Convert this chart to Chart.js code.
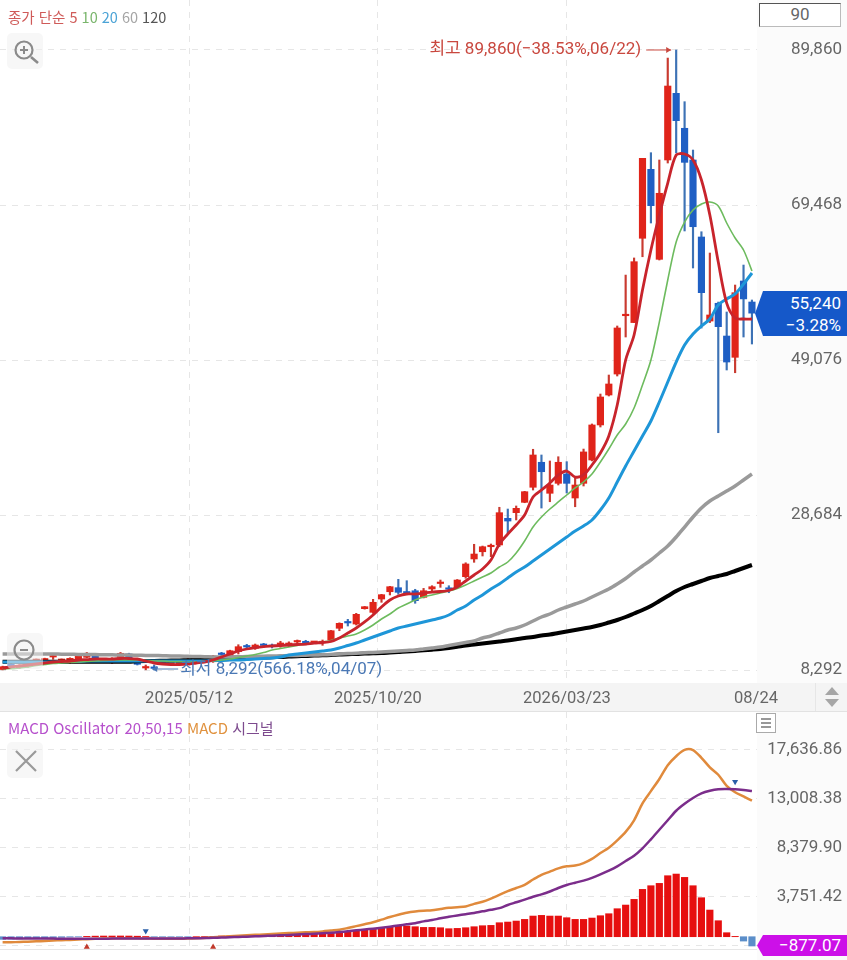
<!DOCTYPE html>
<html lang="ko">
<head>
<meta charset="utf-8">
<title>차트</title>
<script src="https://cdn.jsdelivr.net/npm/chart.js@4/dist/chart.umd.js"></script>
<style>
    html, body { margin: 0; padding: 0; background: #fff; }
    body { position: relative; width: 847px; height: 960px; overflow: hidden; font-family: Roboto, "Noto Sans CJK KR", sans-serif; color: #666; }
    canvas { position: absolute; left: 0; z-index: 2; }
    #priceChart { top: 0; }
    #macdChart { top: 712px; }
    .box { position: absolute; }
    .front { z-index: 3; }
    .legend { position: absolute; z-index: 3; white-space: nowrap; font-family: "Noto Sans CJK KR", Roboto, sans-serif; }
    .tag { position: absolute; z-index: 4; left: 755px; width: 92px; color: #fff; text-align: right; font-size: 17px; box-sizing: border-box; padding-right: 6px; }
    .icon { position: absolute; z-index: 3; width: 36px; height: 36px; left: 7px; border-radius: 5px; background: rgba(240,240,240,.55); }
</style>
</head>
<body>
<div class="box" style="left:757px;top:0;width:90px;height:683px;background:#fbfbfb"></div>
<div class="box" style="left:757px;top:712px;width:90px;height:248px;background:#fbfbfb"></div>
<div class="box" style="left:0;top:683px;width:847px;height:29px;background:#f4f4f4"></div>
<div class="box" style="left:0;top:711px;width:847px;height:1px;background:#e2e2e2"></div>
<div class="box" style="left:0;top:949px;width:757px;height:1px;background:#e6e6e6"></div>
<div class="box" style="left:815px;top:683px;width:1px;height:28px;background:#e6e6e6"></div>

<canvas id="priceChart" width="847" height="712"></canvas>
<canvas id="macdChart" width="847" height="248"></canvas>

<div class="legend" style="left:8px;top:6px;font-size:14.5px">
    <span style="color:#cf5a58">종가 단순 5</span>
    <span style="color:#79b56b">10</span>
    <span style="color:#4ba3d6">20</span>
    <span style="color:#a5a5a5">60</span>
    <span style="color:#555">120</span>
</div>
<div class="legend" style="left:8px;top:717px;font-size:15px">
    <span style="color:#b650cc">MACD Oscillator 20,50,15</span>
    <span style="color:#e0923f">MACD</span>
    <span style="color:#7d4a8e">시그널</span>
</div>

<div class="box front" style="left:759px;top:3px;width:82px;height:24px;box-sizing:border-box;border:1.5px solid #555;border-right-color:#bbb;border-bottom-color:#bbb;background:#fff;text-align:center;font-size:17px;line-height:21px;color:#666">90</div>

<div class="icon" style="top:33px">
    <svg width="36" height="36"><circle cx="17" cy="17" r="8.5" fill="none" stroke="#8b8b8b" stroke-width="2.2"/><path d="M13 17h8M17 13v8" stroke="#8b8b8b" stroke-width="2"/><path d="M24 24l7 6" stroke="#8b8b8b" stroke-width="2.6"/></svg>
</div>
<div class="icon" style="top:633px">
    <svg width="36" height="36"><circle cx="17" cy="17" r="9.5" fill="none" stroke="#8b8b8b" stroke-width="2.2"/><path d="M13 17h8" stroke="#8b8b8b" stroke-width="2"/></svg>
</div>
<div class="icon" style="top:742px">
    <svg width="36" height="36"><path d="M9 9l20 20M29 9L9 29" stroke="#9a9a9a" stroke-width="2.2"/></svg>
</div>

<div class="box front" style="left:756px;top:713px;width:20px;height:20px;box-sizing:border-box;border:1px solid #aaa;background:#fff">
    <svg width="18" height="18" style="display:block"><path d="M4 5h10M4 9h10M4 13h10" stroke="#777" stroke-width="1.6"/></svg>
</div>
<svg class="box front" style="left:822px;top:686px" width="20" height="24"><path d="M10 1l7 8H3zM3 13h14l-7 8z" fill="#a6a6a6"/></svg>

<div class="tag" style="top:291px;height:45px;line-height:22px;padding-top:1px;background:#1558c9;clip-path:polygon(0 50%,8px 0,100% 0,100% 100%,8px 100%)">55,240<br>−3.28%</div>
<div class="tag" style="top:935px;height:21px;line-height:21px;background:#cc10e8;clip-path:polygon(2px 50%,8px 0,100% 0,100% 100%,8px 100%)">−877.07</div>

<script>
// weekly candles
const opens = [8358, 9042, 8595, 8726, 9542, 9608, 10000, 9540, 9250, 9608, 9960, 10134, 9500, 9250, 9960, 10400, 9608, 8555, 8555, 9080, 9108, 9134, 9080, 9700, 9608, 9380, 10400, 10170, 10700, 11360, 11150, 11580, 11450, 11650, 11540, 11975, 12070, 11910, 11880, 12240, 13780, 14540, 14340, 16360, 15880, 17630, 18590, 19120, 18570, 18720, 17850, 18950, 19670, 19020, 19250, 20570, 22900, 23850, 24510, 24740, 28250, 28990, 30350, 32330, 35620, 31540, 32850, 34080, 30920, 32850, 35920, 40530, 44470, 47230, 54900, 54000, 65090, 74160, 62320, 75390, 84160, 79560, 75388, 65260, 54200, 56540, 52230, 49430, 59470, 56706];
const highs = [8800, 9150, 9000, 9050, 9750, 9850, 10450, 9750, 9900, 10200, 10600, 10300, 9750, 9900, 10600, 10500, 9700, 8950, 8950, 9350, 9300, 9300, 9800, 9800, 9700, 10200, 10620, 10900, 11620, 11670, 11710, 11800, 11710, 12070, 12000, 12240, 12200, 12000, 12240, 13500, 14500, 14960, 15750, 16650, 17590, 18250, 19300, 20220, 20040, 18910, 19030, 19380, 20130, 19380, 20200, 22400, 24830, 24600, 24870, 29700, 29470, 29870, 31800, 37330, 36580, 35790, 36350, 35700, 33550, 37360, 40660, 44600, 47100, 53550, 60250, 62500, 75610, 76350, 75390, 88800, 89860, 83060, 76700, 65950, 63150, 56700, 55390, 58940, 61570, 56969];
const lows = [8310, 8500, 8500, 8650, 9400, 9450, 9700, 9400, 9150, 9500, 9900, 9350, 9350, 9150, 9900, 9700, 8950, 8318, 8292, 9000, 9000, 9050, 9000, 9150, 9400, 9300, 10040, 10100, 10400, 11010, 11000, 11280, 11190, 11280, 11360, 11540, 11600, 11800, 11540, 12020, 13460, 14080, 14210, 16300, 15750, 17200, 18160, 18250, 18400, 17070, 17770, 18590, 19170, 18460, 19080, 20360, 22460, 23290, 23200, 24510, 26320, 28030, 30300, 31970, 29600, 30430, 32630, 31580, 29770, 32500, 35800, 40260, 44340, 46970, 52100, 54000, 62660, 67100, 62230, 74990, 76310, 66050, 61180, 53280, 54000, 39510, 47760, 47400, 52100, 51180];
const closes = [8726, 8595, 8910, 8950, 9608, 9700, 10068, 9608, 9830, 10134, 10490, 9476, 9608, 9830, 10490, 9780, 9042, 8595, 8500, 9250, 9186, 9213, 9700, 9250, 9476, 10130, 10330, 10830, 11360, 11320, 11580, 11520, 11380, 11710, 11840, 12110, 11710, 11975, 12020, 13460, 14430, 14480, 15620, 16620, 17200, 18200, 19250, 18510, 18420, 17410, 18720, 19250, 19780, 18910, 20130, 22240, 23550, 24510, 24600, 28990, 27890, 29560, 31750, 36580, 34380, 32630, 35620, 32850, 32630, 36980, 40530, 44210, 45920, 53290, 55000, 62010, 75610, 69380, 71010, 85120, 80560, 75080, 66610, 57930, 55000, 53460, 48810, 57930, 57113, 55240];

// moving averages
const ma5 = [8555, 8690, 8820, 8950, 9080, 9213, 9345, 9410, 9476, 9608, 9670, 9740, 9740, 9740, 9805, 9805, 9740, 9476, 9213, 9080, 9015, 9015, 9080, 9213, 9345, 9608, 10000, 10400, 10790, 11055, 11250, 11380, 11450, 11515, 11580, 11650, 11710, 11840, 11910, 12040, 12500, 13160, 13820, 14610, 15530, 16580, 17500, 18030, 18290, 18290, 18420, 18550, 18620, 18750, 19210, 20000, 20790, 21580, 22760, 24870, 26180, 27370, 28680, 31050, 31970, 32890, 33950, 34470, 33680, 33950, 35260, 36840, 39080, 43150, 49076, 52360, 58285, 63547, 68150, 72360, 76040, 76180, 75390, 72760, 68150, 61970, 56570, 54600, 54470, 54470];
const ma10 = [8424, 8490, 8555, 8690, 8880, 9015, 9150, 9213, 9280, 9345, 9410, 9476, 9540, 9608, 9608, 9608, 9608, 9540, 9476, 9476, 9410, 9410, 9345, 9345, 9410, 9476, 9608, 9740, 9937, 10134, 10330, 10590, 10923, 11120, 11320, 11515, 11710, 11840, 11975, 12170, 12500, 12765, 13030, 13554, 14210, 15000, 15660, 16450, 16975, 17500, 17900, 18160, 18420, 18685, 19015, 19475, 20000, 20530, 21050, 21840, 22500, 23685, 25263, 27105, 28420, 29470, 30400, 31315, 32240, 33025, 34080, 35660, 37370, 39210, 40650, 42760, 45790, 49076, 54070, 59600, 64600, 67230, 68810, 69600, 69860, 69335, 67100, 65125, 63547, 60785];
const ma20 = [9345, 9345, 9345, 9345, 9345, 9345, 9345, 9410, 9410, 9410, 9476, 9476, 9476, 9476, 9476, 9476, 9476, 9476, 9476, 9476, 9476, 9476, 9476, 9476, 9476, 9540, 9540, 9608, 9608, 9670, 9740, 9805, 9870, 10000, 10265, 10400, 10530, 10660, 10790, 10923, 11185, 11515, 11840, 12240, 12630, 13030, 13420, 13820, 14080, 14340, 14610, 14870, 15130, 15530, 16186, 16710, 17500, 18160, 18950, 19600, 20400, 21180, 21840, 22630, 23420, 24210, 25000, 25790, 26580, 27240, 28026, 29340, 30920, 33025, 35130, 37100, 39080, 41050, 43550, 46180, 48810, 51050, 52500, 53550, 54470, 56310, 57100, 57760, 59070, 60520];
const ma60 = [10397, 10397, 10397, 10397, 10397, 10397, 10397, 10370, 10357, 10344, 10331, 10318, 10305, 10292, 10265, 10265, 10239, 10213, 10200, 10173, 10134, 10134, 10094, 10068, 10042, 10002, 10002, 10002, 10029, 10055, 10081, 10108, 10134, 10160, 10186, 10213, 10239, 10265, 10292, 10331, 10397, 10450, 10502, 10555, 10607, 10660, 10726, 10792, 10857, 10923, 11055, 11186, 11318, 11515, 11713, 11910, 12107, 12502, 12765, 13160, 13554, 13817, 14212, 14738, 15265, 15659, 16186, 16580, 16975, 17370, 17896, 18422, 18948, 19606, 20330, 21185, 21974, 22763, 23684, 24605, 25790, 27105, 28420, 29605, 30526, 31183, 31841, 32499, 33288, 34078];
const ma120 = [9384, 9384, 9384, 9384, 9384, 9384, 9384, 9384, 9384, 9384, 9384, 9384, 9384, 9384, 9384, 9384, 9450, 9476, 9476, 9502, 9529, 9555, 9581, 9608, 9634, 9673, 9700, 9739, 9779, 9818, 9871, 9923, 9976, 10002, 10055, 10108, 10134, 10186, 10226, 10265, 10318, 10370, 10397, 10450, 10489, 10529, 10594, 10660, 10739, 10792, 10884, 10963, 11055, 11186, 11344, 11515, 11647, 11778, 11910, 12041, 12173, 12331, 12502, 12633, 12831, 12962, 13160, 13357, 13554, 13752, 13949, 14212, 14541, 14870, 15265, 15725, 16186, 16712, 17370, 18028, 18685, 19212, 19606, 20001, 20396, 20659, 20922, 21317, 21711, 22106];

// MACD panel
const oscillator = [-250, -230, -200, -170, -140, -110, -80, -60, -30, -10, 30, 55, 65, 65, 70, 65, 50, 20, -10, -20, -20, -15, -10, 5, 15, 31, 63, 63, 95, 126, 126, 157, 190, 220, 250, 283, 250, 250, 283, 346, 410, 472, 567, 630, 693, 850, 945, 1007, 1007, 945, 880, 880, 850, 756, 787, 850, 945, 1039, 1070, 1322, 1385, 1480, 1637, 1952, 2015, 1952, 1952, 1795, 1637, 1637, 1763, 1984, 2172, 2645, 2991, 3527, 4471, 4817, 5038, 5762, 5919, 5604, 4817, 3684, 2519, 1511, 378, 30, -410, -877.07];
const macdLine = [-530, -520, -500, -470, -440, -400, -360, -330, -300, -270, -230, -200, -180, -165, -150, -145, -150, -170, -185, -195, -200, -195, -175, -150, -110, -60, -10, 40, 90, 130, 175, 215, 260, 300, 340, 375, 410, 440, 500, 580, 660, 820, 1000, 1180, 1370, 1610, 1860, 2080, 2270, 2390, 2460, 2500, 2620, 2730, 2790, 2860, 3100, 3300, 3600, 3950, 4300, 4600, 4900, 5400, 5850, 6150, 6450, 6650, 6720, 6950, 7350, 7900, 8400, 9100, 9900, 11000, 12600, 13750, 14900, 16200, 17050, 17650, 17636, 16900, 16000, 15300, 14250, 13650, 13250, 12847];
const signalLine = [-150, -155, -160, -165, -170, -175, -180, -185, -190, -190, -190, -185, -185, -180, -180, -175, -175, -175, -175, -175, -170, -165, -155, -145, -125, -100, -75, -50, -20, 5, 35, 65, 100, 130, 165, 205, 245, 285, 330, 375, 440, 520, 600, 680, 760, 850, 950, 1060, 1170, 1280, 1450, 1570, 1740, 1880, 2010, 2130, 2250, 2400, 2540, 2700, 3000, 3250, 3500, 3780, 4000, 4270, 4600, 4884, 5100, 5300, 5560, 5880, 6240, 6650, 7150, 7650, 8350, 9200, 10100, 11000, 11900, 12550, 13100, 13530, 13780, 13930, 13950, 13920, 13850, 13763];

// cross signals on the MACD panel
const sellSignals = [[17, 538], [87, 14640]];
const buySignals = [[10, -970], [25, -970]];

const priceTicks = [89860, 69468, 49076, 28684, 8292];
const macdTicks = [17636.86, 13008.38, 8379.9, 3751.42, -877.07];
const dateLabels = ['2025/05/12', '2025/10/20', '2026/03/23', '08/24'];
const dateSlots = [22.14, 44.58, 67.03, 89.48];

const RED = '#e0241a';
const BLUE = '#1f5fc4';
const GRID = '#e6e6e6';
const FONT = 'Roboto, "Noto Sans CJK KR", sans-serif';
Chart.defaults.font.family = FONT;

const isUp = (i) => closes[i] >= opens[i];
const toPoints = (arr) => arr.map((v, i) => ({ x: i, y: v }));

function maLine(arr, color, width, order) {
    return {
        type: 'line',
        data: toPoints(arr),
        borderColor: color,
        borderWidth: width,
        pointRadius: 0,
        tension: 0.3,
        order: order
    };
}

function xAxis(showLabels) {
    return {
        type: 'linear',
        offset: false,
        min: -0.31,
        max: 89.6,
        afterBuildTicks: (scale) => { scale.ticks = dateSlots.map((v) => ({ value: v })); },
        afterFit: (scale) => {
            scale.height = showLabels ? 29 : 10;
            scale.paddingLeft = 0;
            scale.paddingRight = 0;
        },
        border: { display: false, dash: [6, 6] },
        grid: {
            offset: false,
            drawTicks: false,
            color: (ctx) => (ctx.index === 3 ? 'transparent' : GRID),
            lineWidth: 1
        },
        ticks: {
            display: showLabels,
            autoSkip: false,
            maxRotation: 0,
            padding: 6,
            color: '#666',
            font: { size: 16.5 },
            callback: (v, i) => dateLabels[i]
        }
    };
}

function yAxis(lo, hi, tickValues, digits) {
    return {
        position: 'right',
        min: lo,
        max: hi,
        afterBuildTicks: (scale) => { scale.ticks = tickValues.map((v) => ({ value: v })); },
        // tick padding would otherwise also shrink the plot area top and bottom
        afterFit: (scale) => {
            scale.width = 85;
            scale.paddingTop = 0;
            scale.paddingBottom = 0;
        },
        border: { display: false, dash: [6, 6] },
        grid: { drawTicks: false, color: GRID, lineWidth: 1 },
        ticks: {
            crossAlign: 'far',
            padding: 0,
            color: '#666',
            font: { size: 17 },
            callback: (v) => v.toLocaleString('en-US', { minimumFractionDigits: digits, maximumFractionDigits: digits })
        }
    };
}

// the high / low call-outs next to the candles
const extremes = {
    id: 'extremes',
    afterDatasetsDraw(chart) {
        const { ctx, scales } = chart;
        const hiIdx = highs.indexOf(Math.max(...highs));
        const loIdx = lows.indexOf(Math.min(...lows));
        const hx = scales.x.getPixelForValue(hiIdx);
        const hy = scales.y.getPixelForValue(highs[hiIdx]);
        const lx = scales.x.getPixelForValue(loIdx);
        const ly = scales.y.getPixelForValue(lows[loIdx]);
        ctx.save();
        ctx.font = '17px ' + FONT;
        ctx.textBaseline = 'middle';
        ctx.lineWidth = 1;

        ctx.fillStyle = ctx.strokeStyle = '#c9483f';
        ctx.textAlign = 'right';
        ctx.fillText('최고 89,860(−38.53%,06/22)', hx - 35, hy);
        ctx.beginPath();
        ctx.moveTo(hx - 30, hy);
        ctx.lineTo(hx - 5, hy);
        ctx.stroke();
        ctx.beginPath();
        ctx.moveTo(hx - 5, hy);
        ctx.lineTo(hx - 10, hy - 3);
        ctx.lineTo(hx - 10, hy + 3);
        ctx.fill();

        ctx.fillStyle = ctx.strokeStyle = '#4a78b5';
        ctx.textAlign = 'left';
        ctx.fillText('최저 8,292(566.18%,04/07)', lx + 26, ly);
        ctx.beginPath();
        ctx.moveTo(lx - 2, ly - 1);
        ctx.lineTo(lx + 24, ly - 1);
        ctx.stroke();
        ctx.beginPath();
        ctx.moveTo(lx - 2, ly - 1);
        ctx.lineTo(lx + 3, ly - 4);
        ctx.lineTo(lx + 3, ly + 2);
        ctx.fill();
        ctx.restore();
    }
};

const priceChart = new Chart(document.getElementById('priceChart'), {
    type: 'bar',
    data: {
        datasets: [
            {
                data: lows.map((v, i) => ({ x: i, y: [v, highs[i]] })),
                backgroundColor: lows.map((v, i) => (isUp(i) ? '#c93a30' : '#3d72b5')),
                barThickness: 1.5,
                grouped: false,
                order: 7
            },
            {
                data: opens.map((v, i) => ({ x: i, y: [v, closes[i]] })),
                backgroundColor: opens.map((v, i) => (isUp(i) ? RED : BLUE)),
                barThickness: 6.5,
                minBarLength: 1.5,
                grouped: false,
                order: 6
            },
            maLine(ma120, '#000000', 4, 5),
            maLine(ma60, '#9a9a9a', 3.5, 4),
            maLine(ma20, '#1e96d8', 3, 3),
            maLine(ma10, '#6dbb5e', 1.6, 2),
            maLine(ma5, '#c8242c', 2.8, 1)
        ]
    },
    options: {
        responsive: false,
        animation: false,
        events: [],
        layout: { padding: { right: 5 }, autoPadding: false },
        plugins: { legend: { display: false }, tooltip: { enabled: false } },
        scales: {
            x: xAxis(true),
            y: yAxis(6582, 96438, priceTicks, 0)
        }
    },
    plugins: [extremes]
});

const macdChart = new Chart(document.getElementById('macdChart'), {
    type: 'bar',
    data: {
        datasets: [
            {
                data: toPoints(oscillator),
                backgroundColor: oscillator.map((v) => (v >= 0 ? '#e60f0f' : '#5b8ec9')),
                barThickness: 6.5,
                grouped: false,
                order: 4
            },
            {
                type: 'line',
                data: toPoints(macdLine),
                borderColor: '#e08a3c',
                borderWidth: 2.5,
                pointRadius: 0,
                tension: 0.3,
                order: 3
            },
            {
                type: 'line',
                data: toPoints(signalLine),
                borderColor: '#7b2d8b',
                borderWidth: 2.5,
                pointRadius: 0,
                tension: 0.3,
                order: 2
            },
            {
                type: 'line',
                data: sellSignals.map((p) => ({ x: p[0], y: p[1] })),
                showLine: false,
                pointStyle: 'triangle',
                rotation: 180,
                pointRadius: 3.5,
                pointBackgroundColor: '#2a5fa8',
                pointBorderWidth: 0,
                order: 1
            },
            {
                type: 'line',
                data: buySignals.map((p) => ({ x: p[0], y: p[1] })),
                showLine: false,
                pointStyle: 'triangle',
                pointRadius: 3.5,
                pointBackgroundColor: '#c0392b',
                pointBorderWidth: 0,
                order: 1
            }
        ]
    },
    options: {
        responsive: false,
        animation: false,
        events: [],
        layout: { padding: { right: 5 }, autoPadding: false },
        plugins: { legend: { display: false }, tooltip: { enabled: false } },
        scales: {
            x: xAxis(false),
            y: yAxis(-1255, 21226, macdTicks, 2)
        }
    }
});
</script>
</body>
</html>
